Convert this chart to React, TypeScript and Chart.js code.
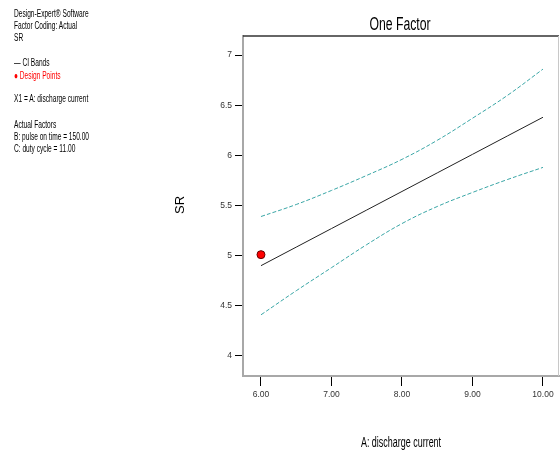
import React, { useEffect, useRef } from "react";
import { Chart, registerables } from "chart.js";

Chart.register(...registerables);

const xValues = [6, 6.5, 7, 7.5, 8, 8.5, 9, 9.5, 10];
const fittedSR = [4.9, 5.085, 5.27, 5.455, 5.64, 5.825, 6.01, 6.195, 6.38];
const upperCI = [5.39, 5.51, 5.65, 5.8, 5.96, 6.15, 6.37, 6.6, 6.86];
const lowerCI = [4.41, 4.65, 4.88, 5.11, 5.32, 5.49, 5.63, 5.76, 5.88];
const designX = [6];
const designSR = [5.01];
const yTicks = [4, 4.5, 5, 5.5, 6, 6.5, 7];
const xTicks = [6, 7, 8, 9, 10];

const infoLines: { text: string; color: string; top: number }[] = [
  { text: "Design-Expert® Software", color: "#000", top: 7.5 },
  { text: "Factor Coding: Actual", color: "#000", top: 19.5 },
  { text: "SR", color: "#000", top: 31.5 },
  { text: "— CI Bands", color: "#000", top: 56.5 },
  { text: "● Design Points", color: "#ff0000", top: 69.5 },
  { text: "X1 = A: discharge current", color: "#000", top: 92.5 },
  { text: "Actual Factors", color: "#000", top: 118.5 },
  { text: "B: pulse on time = 150.00", color: "#000", top: 130.5 },
  { text: "C: duty cycle = 11.00", color: "#000", top: 142.5 },
];

const FONT = "'Liberation Sans', Arial, sans-serif";

const frame = {
  id: "frame",
  afterDraw(chart: any) {
    const { ctx, chartArea } = chart;
    ctx.save();
    ctx.strokeStyle = "#333";
    ctx.lineWidth = 1.5;
    ctx.beginPath();
    ctx.moveTo(chartArea.left, chartArea.top);
    ctx.lineTo(chartArea.right, chartArea.top);
    ctx.stroke();
    ctx.strokeStyle = "#c8c8c8";
    ctx.lineWidth = 1;
    ctx.beginPath();
    ctx.moveTo(chartArea.right - 0.5, chartArea.top);
    ctx.lineTo(chartArea.right - 0.5, chartArea.bottom);
    ctx.stroke();
    ctx.restore();
  },
};

export default function App() {
  const ref = useRef<HTMLCanvasElement | null>(null);
  useEffect(() => {
    if (!ref.current) return;
    const toPts = (ys: number[]) => xValues.map((x, i) => ({ x, y: ys[i] }));
    const chart = new Chart(ref.current, {
      type: "line",
      data: {
        datasets: [
          {
            label: "Upper CI",
            data: toPts(upperCI),
            borderColor: "#3aa6a6",
            borderWidth: 1,
            borderDash: [4, 2],
            pointRadius: 0,
            tension: 0.4,
          },
          {
            label: "SR",
            data: toPts(fittedSR),
            borderColor: "#222",
            borderWidth: 1,
            pointRadius: 0,
          },
          {
            label: "Lower CI",
            data: toPts(lowerCI),
            borderColor: "#3aa6a6",
            borderWidth: 1,
            borderDash: [4, 2],
            pointRadius: 0,
            tension: 0.4,
          },
          {
            label: "Design Points",
            type: "scatter",
            data: designX.map((x, i) => ({ x, y: designSR[i] })),
            backgroundColor: "#ff0000",
            borderColor: "#660000",
            borderWidth: 1,
            pointRadius: 4,
            showLine: false,
          } as any,
        ],
      },
      options: {
        animation: false,
        responsive: false,
        devicePixelRatio: 1,
        layout: { autoPadding: false, padding: { top: 36, right: 1, left: 0, bottom: 0 } },
        plugins: { legend: { display: false }, tooltip: { enabled: false }, title: { display: false } },
        scales: {
          x: {
            type: "linear",
            min: 5.745,
            max: 10.227,
            afterBuildTicks: (s: any) => {
              s.ticks = xTicks.map((v) => ({ value: v }));
            },
            afterFit: (s: any) => {
              s.height = 74;
              s.paddingLeft = 0;
              s.paddingRight = 0;
            },
            border: { color: "#a8a8a8", width: 2 },
            grid: { drawOnChartArea: false, drawTicks: true, tickLength: 10, tickColor: "#000", tickWidth: 1 },
            ticks: {
              color: "#333",
              font: { family: FONT, size: 8.5 },
              padding: 4,
              maxRotation: 0,
              callback: (v: any) => Number(v).toFixed(2),
            },
          },
          y: {
            type: "linear",
            min: 3.8,
            max: 7.19,
            afterBuildTicks: (s: any) => {
              s.ticks = yTicks.map((v) => ({ value: v }));
            },
            afterFit: (s: any) => {
              s.width = 243;
              s.paddingTop = 0;
              s.paddingBottom = 0;
            },
            border: { color: "#a8a8a8", width: 2 },
            grid: { drawOnChartArea: false, drawTicks: true, tickLength: 8, tickColor: "#000", tickWidth: 1 },
            ticks: {
              color: "#333",
              font: { family: FONT, size: 8.5 },
              padding: 3,
              callback: (v: any) => String(v),
            },
          },
        },
      },
      plugins: [frame],
    } as any);
    return () => chart.destroy();
  }, []);

  return (
    <div style={{ position: "fixed", left: 0, top: 0, width: 560, height: 450, background: "#fff", overflow: "hidden" }}>
      <canvas ref={ref} width={560} height={450} style={{ position: "absolute", left: 0, top: 0, width: 560, height: 450 }} />
      {infoLines.map((l) => (
        <div
          key={l.text}
          style={{
            position: "absolute",
            left: 14,
            top: l.top,
            fontFamily: FONT,
            fontSize: 10,
            lineHeight: "12px",
            color: l.color,
            whiteSpace: "nowrap",
            transform: "scaleX(0.66)",
            transformOrigin: "left top",
          }}
        >
          {l.text}
        </div>
      ))}
      <div
        style={{
          position: "absolute",
          left: 300,
          width: 200,
          top: 13,
          textAlign: "center",
          fontFamily: FONT,
          fontSize: 18,
          lineHeight: "22px",
          color: "#000",
          transform: "scaleX(0.68)",
          transformOrigin: "center top",
          whiteSpace: "nowrap",
        }}
      >
        One Factor
      </div>
      <div
        style={{
          position: "absolute",
          left: 301,
          width: 200,
          top: 434,
          textAlign: "center",
          fontFamily: FONT,
          fontSize: 14,
          lineHeight: "16px",
          color: "#000",
          transform: "scaleX(0.64)",
          transformOrigin: "center top",
          whiteSpace: "nowrap",
        }}
      >
        A: discharge current
      </div>
      <div
        style={{
          position: "absolute",
          left: 160,
          width: 40,
          top: 197,
          textAlign: "center",
          fontFamily: FONT,
          fontSize: 13,
          lineHeight: "16px",
          color: "#000",
          transform: "rotate(-90deg)",
          transformOrigin: "center center",
          whiteSpace: "nowrap",
        }}
      >
        SR
      </div>
    </div>
  );
}
